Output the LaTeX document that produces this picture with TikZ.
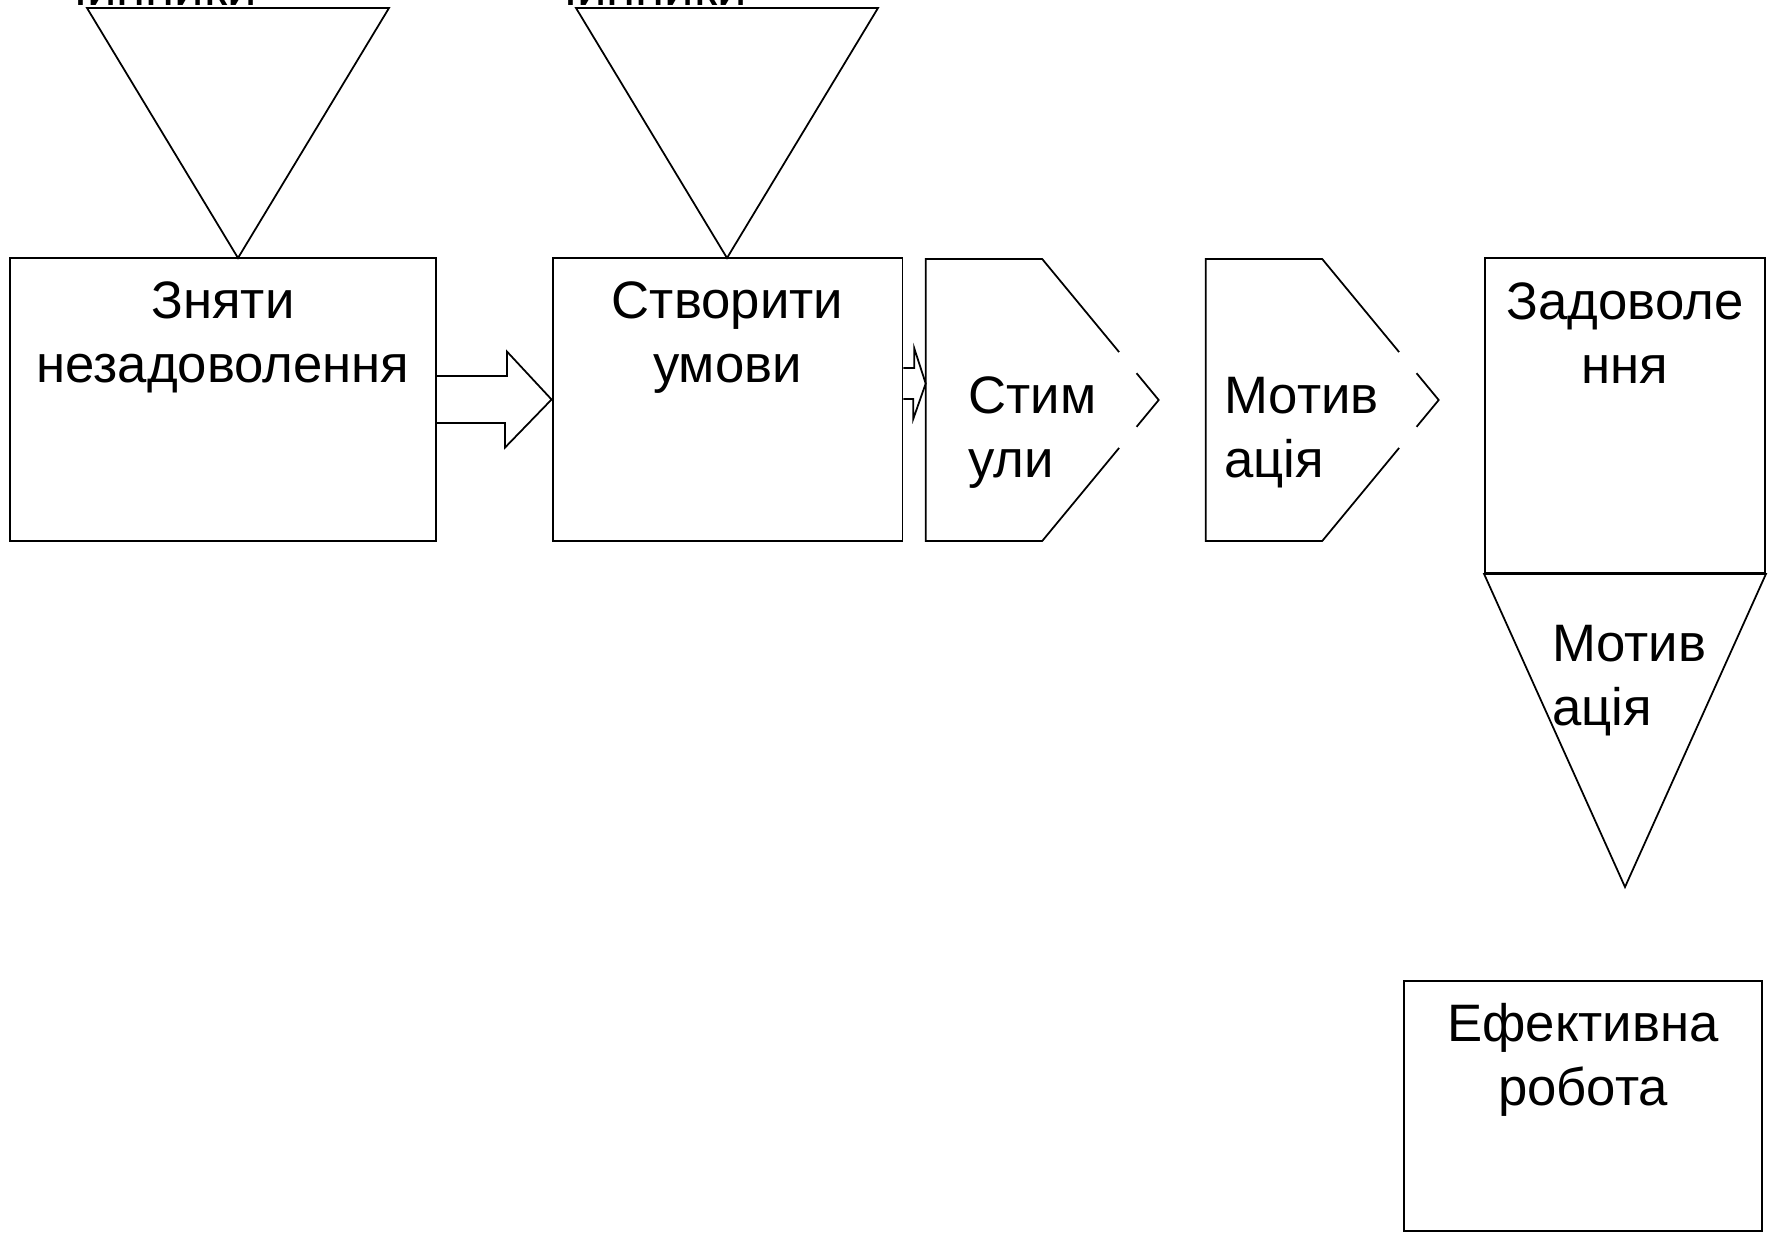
\documentclass[tikz,border=0pt]{standalone}
\usepackage{fontspec}
\setmainfont{Liberation Sans}
\usetikzlibrary{calc, positioning}

\tikzset{
  box/.style={draw, line width=1.1pt, rectangle, inner sep=0pt},
  lbl/.style={font=\fontsize{30}{36.4}\selectfont, inner sep=0pt},
  outline/.style={line width=1pt, line join=miter},
  blockarrow/.style={line width=1pt, line join=miter},
}

\begin{document}
\begin{tikzpicture}[x=0.02cm, y=-0.02cm]
  \useasboundingbox (0,0) rectangle (1768,1232);

  % Boxes
  \node[box, minimum width=8.53cm, minimum height=5.66cm] (zn) at (222.75,399.5) {};
  \node[box, minimum width=7cm, minimum height=5.66cm] (sv) at (727.5,399.5) {};
  \node[box, minimum width=5.6cm, minimum height=6.3cm] (zd) at (1625,415.5) {};
  \node[box, minimum width=7.16cm, minimum height=5cm] (ef) at (1583,1106) {};

  % Triangles on top
  \draw[outline] (87,8) -- (389,8) -- (238,258) -- cycle;
  \draw[outline] (576,8) -- (878,8) -- (727,258) -- cycle;
  \node[lbl, anchor=base east] (fac1) at (257,5.5) {чинники};
  \node[lbl, anchor=base east] (fac2) at (747,5.5) {чинники};

  % Triangle under the last box
  \draw[outline] (zd.south west) -- (zd.south east) -- (1625,887) -- cycle;

  % Chevrons (outline broken near the tip)
  \foreach \xl in {925.7, 1205.7} {
    \coordinate (ct) at (\xl+116.5,259);
    \coordinate (cb) at (\xl+116.5,541);
    \coordinate (tp) at (\xl+233,400);
    \draw[outline] ($(ct)!0.66!(tp)$) -- (ct) -- (\xl,259) -- (\xl,541) -- (cb) -- ($(cb)!0.66!(tp)$);
    \draw[outline] ($(ct)!0.81!(tp)$) -- (tp) -- ($(cb)!0.81!(tp)$);
  }
  \coordinate (stimin) at (925.7,383.5);

  % Block arrows
  \draw[blockarrow] ($(zn.east)+(0,-23.5)$) -- ++(70,0) -- ++(0,-24.5) -- (sv.west)
    -- ++(-46.5,48) -- ++(0,-24.5) -- ($(zn.east)+(0,23.5)$);
  \draw[blockarrow] ($(sv.east|-stimin)+(0,-15.5)$) -- ++(10.8,0) -- ++(0,-19.8) -- (stimin)
    -- ++(-12.4,35.3) -- ++(0,-19.8) -- ($(sv.east|-stimin)+(0,15.5)$);

  % Labels
  \node[lbl, align=center, anchor=base] (zntxt) at (223,382) {Зняти\\незадоволення};
  \node[lbl, align=center, anchor=base] (svtxt) at (727.5,382) {Створити\\умови};
  \node[lbl, align=left, anchor=base west] (stimtxt) at (968,477) {Стим\\ули};
  \node[lbl, align=left, anchor=base west] (mottxt) at (1224,477) {Мотив\\ація};
  \node[lbl, align=center, anchor=base] (zdtxt) at (1625,383) {Задоволе\\ння};
  \node[lbl, align=left, anchor=base west] (mot2txt) at (1551.7,725.7) {Мотив\\ація};
  \node[lbl, align=center, anchor=base] (eftxt) at (1583,1105) {Ефективна\\робота};
\end{tikzpicture}
\end{document}
